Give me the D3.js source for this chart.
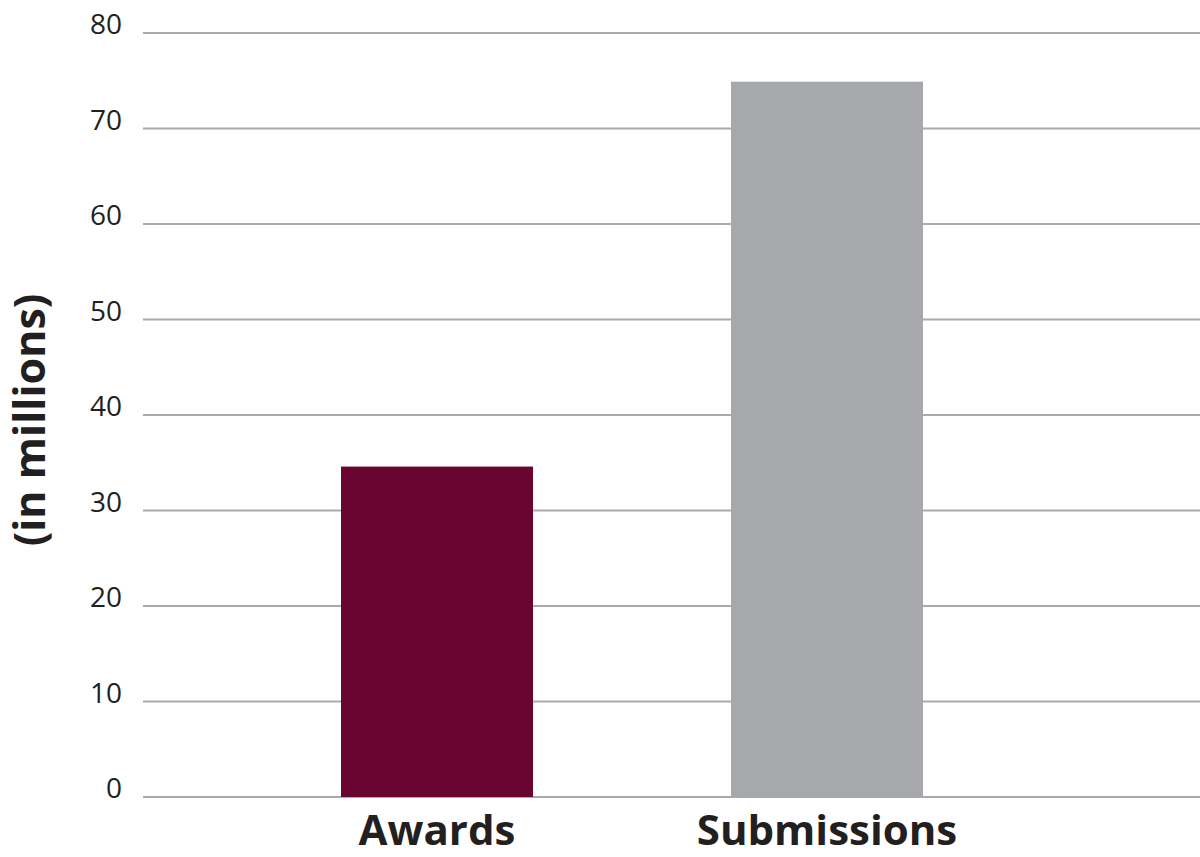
<!DOCTYPE html>
<html>
<head>
<meta charset="utf-8">
<script src="https://cdn.jsdelivr.net/npm/d3@7"></script>
<style>
  html, body { margin: 0; padding: 0; background: #fff; }
  svg { display: block; }
</style>
</head>
<body>
<svg id="chart" width="1200" height="857"></svg>
<script>
const categories = ["Awards", "Submissions"];
const values = [34.6, 74.9];
const colors = ["#6a0532", "#a7a8ab"];
const yTicks = [0, 10, 20, 30, 40, 50, 60, 70, 80];
const yTitle = "(in millions)";

const svg = d3.select("#chart");
const gridLeft = 143, gridRight = 1200;

const y = d3.scaleLinear().domain([0, 80]).range([797, 33]);
const x = d3.scaleBand().domain(categories).range([242, 1022]).paddingInner(0.5077).paddingOuter(0.2538);

// gridlines
svg.append("g").selectAll("line").data(yTicks).join("line")
  .attr("x1", gridLeft).attr("x2", gridRight)
  .attr("y1", d => y(d)).attr("y2", d => y(d))
  .attr("stroke", "#a9aaad").attr("stroke-width", 2);

// tick labels
svg.append("g").selectAll("text").data(yTicks).join("text")
  .attr("x", 122).attr("y", d => y(d) + 1)
  .attr("text-anchor", "end")
  .attr("font-family", "'Open Sans', sans-serif")
  .attr("font-size", 28)
  .attr("fill", "#231f20")
  .text(d => d);

// bars
svg.append("g").selectAll("rect").data(categories).join("rect")
  .attr("x", d => x(d)).attr("width", x.bandwidth())
  .attr("y", (d, i) => y(values[i]))
  .attr("height", (d, i) => y(0) - y(values[i]))
  .attr("fill", (d, i) => colors[i]);

// category labels
svg.append("g").selectAll("text").data(categories).join("text")
  .attr("x", d => x(d) + x.bandwidth() / 2)
  .attr("y", 845)
  .attr("text-anchor", "middle")
  .attr("font-family", "'Open Sans', sans-serif")
  .attr("font-weight", "bold")
  .attr("font-size", 42)
  .attr("fill", "#231f20")
  .text(d => d);

// y title
svg.append("text")
  .attr("transform", "translate(45,420) rotate(-90)")
  .attr("text-anchor", "middle")
  .attr("font-family", "'Open Sans', sans-serif")
  .attr("font-weight", "bold")
  .attr("font-size", 43)
  .attr("fill", "#231f20")
  .text(yTitle);
</script>
</body>
</html>
